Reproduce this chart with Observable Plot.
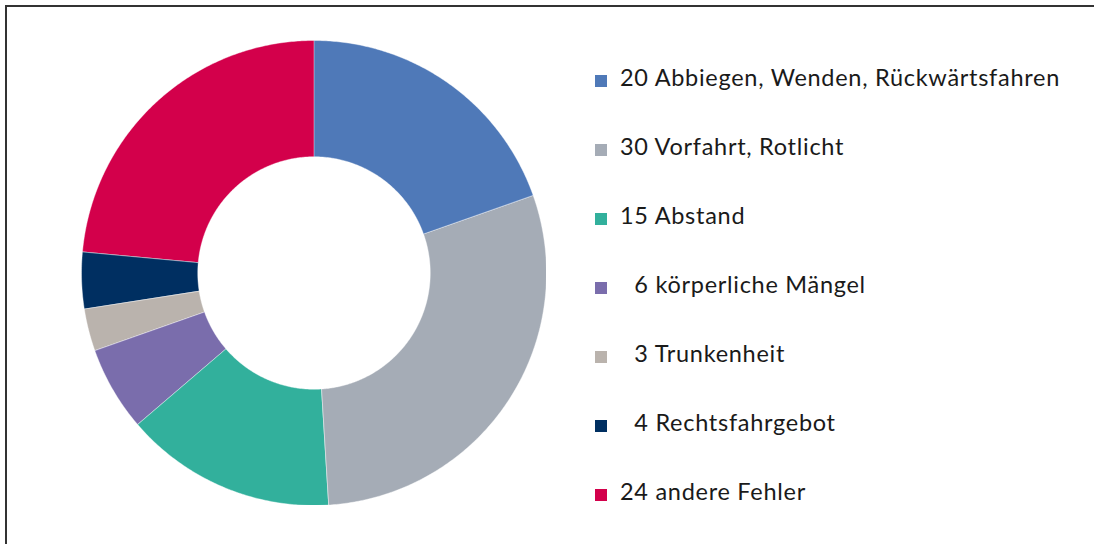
<!DOCTYPE html>
<html>
<head>
<meta charset="utf-8">
<script src="https://cdn.jsdelivr.net/npm/d3@7"></script>
<script src="https://cdn.jsdelivr.net/npm/@observablehq/plot@0.6"></script>
<style>
  html, body { margin: 0; padding: 0; background: #fff; }
  #wrap { position: relative; width: 1094px; height: 544px; overflow: hidden; background: #fff; }
  #frame { position: absolute; left: 5px; top: 5px; width: 1200px; height: 700px;
           border-left: 2px solid #333; border-top: 2px solid #333; }
  #chart { position: absolute; left: 81px; top: 40px; }
  #legend { position: absolute; left: 595px; top: 0; font-family: Lato, "Noto Sans", sans-serif;
            font-size: 23.5px; letter-spacing: 0.72px; color: #1a1a1a; }
  .row { position: absolute; left: 0; white-space: pre; line-height: 1; }
  .sw { position: absolute; left: 0; width: 12px; height: 12px; }
  .lbl { position: absolute; left: 25px; }
</style>
</head>
<body>
<div id="wrap">
  <div id="frame"></div>
  <div id="chart"></div>
  <div id="legend"></div>
</div>
<script>
const categories = ["Abbiegen, Wenden, Rückwärtsfahren", "Vorfahrt, Rotlicht", "Abstand", "körperliche Mängel", "Trunkenheit", "Rechtsfahrgebot", "andere Fehler"];
const values = [20, 30, 15, 6, 3, 4, 24];
const colors = ["#4f79b8", "#a5acb6", "#32b09c", "#7a6dac", "#bab3ad", "#002f61", "#d3004b"];

const innerR = 0.5, outerR = 1;
const arcs = d3.pie().sort(null).value(d => d)(values);
const ring = (a0, a1) => {
  const n = Math.max(2, Math.ceil((a1 - a0) / (Math.PI / 360)));
  const pts = [];
  for (let i = 0; i <= n; i++) {
    const a = a0 + (a1 - a0) * i / n;
    pts.push([outerR * Math.sin(a), -outerR * Math.cos(a)]);
  }
  for (let i = n; i >= 0; i--) {
    const a = a0 + (a1 - a0) * i / n;
    pts.push([innerR * Math.sin(a), -innerR * Math.cos(a)]);
  }
  pts.push(pts[0]);
  return pts;
};
const slices = arcs.map((a, i) => ({
  type: "Feature",
  properties: { category: categories[i], value: values[i] },
  geometry: { type: "Polygon", coordinates: [ring(a.startAngle, a.endAngle)] }
}));

const size = 465;
const chart = Plot.plot({
  width: size,
  height: size,
  margin: 0,
  projection: {
    type: "identity",
    domain: { type: "LineString", coordinates: [[-1, -1], [1, 1]] }
  },
  color: { domain: categories, range: colors },
  marks: [
    Plot.geo(slices, { fill: d => d.properties.category, stroke: "#fff", strokeWidth: 0.4 })
  ]
});
document.getElementById("chart").appendChild(chart);

const fs = 23.5;
const legend = document.getElementById("legend");
categories.forEach((c, i) => {
  const baseline = 87 + 69 * i;
  const sw = document.createElement("div");
  sw.className = "sw";
  sw.style.top = (baseline - 12) + "px";
  sw.style.background = colors[i];
  legend.appendChild(sw);
  const t = document.createElement("div");
  t.className = "row lbl";
  const num = values[i] < 10 ? "\u2007" + values[i] : String(values[i]);
  t.textContent = num + " " + c;
  t.style.top = (baseline - 0.887 * fs) + "px";
  legend.appendChild(t);
});
</script>
</body>
</html>
